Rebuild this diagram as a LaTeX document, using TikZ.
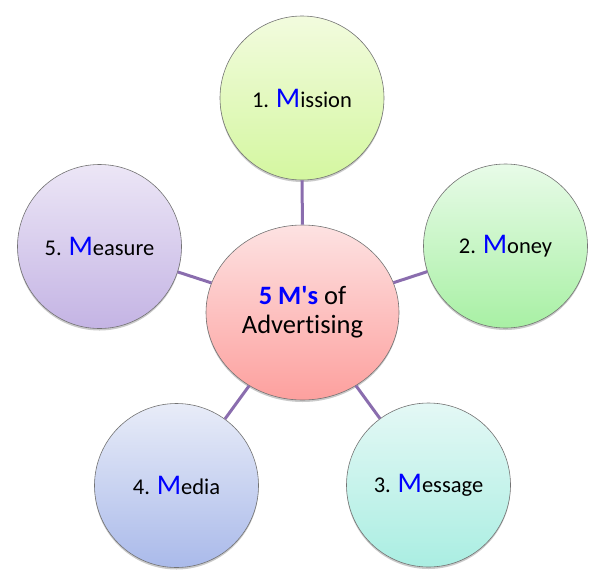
\documentclass[tikz,border=0pt]{standalone}
\usepackage{fontspec}
\setmainfont[Ligatures={NoCommon}]{Carlito}
\usetikzlibrary{shadows,shapes.geometric}
\definecolor{linkc}{HTML}{8A6DAE}
\definecolor{mblue}{HTML}{0000FF}
\tikzset{
  softshadow/.style={drop shadow={shadow xshift=0pt, shadow yshift=-2pt, opacity=0.35, fill=black!60}},
  bub/.style={circle, draw=black!55, line width=0.6pt, minimum size=164pt, inner sep=0pt,
    font=\fontsize{22.5}{26}\selectfont, softshadow},
  hub/.style={ellipse, draw=black!55, line width=0.6pt, inner sep=0pt,
    minimum width=193pt, minimum height=175pt, softshadow,
    align=center, font=\fontsize{26.5}{29}\selectfont},
  link/.style={draw=linkc, line width=3pt},
}
\newcommand{\bigM}{{\fontsize{28.5}{28}\selectfont\color{mblue}M}}
\begin{document}
\begin{tikzpicture}[x=1pt,y=-1pt]
\useasboundingbox (0,0) rectangle (607,587);
\node[hub, top color={rgb,255:red,253;green,226;blue,226}, bottom color={rgb,255:red,253;green,160;blue,158}] (c) at (302.5,312.5)
  {{\bfseries\color{mblue}5 M\textquotesingle s} of\\Advertising};
\node[bub, top color={rgb,255:red,242;green,251;blue,222}, bottom color={rgb,255:red,212;green,247;blue,160}] (m1) at (302,98) {1. \bigM ission};
\node[bub, top color={rgb,255:red,232;green,251;blue,232}, bottom color={rgb,255:red,168;green,240;blue,164}] (m2) at (505.5,246) {2. \bigM oney};
\node[bub, top color={rgb,255:red,228;green,248;blue,245}, bottom color={rgb,255:red,170;green,238;blue,226}] (m3) at (428.5,485) {3. \bigM essage};
\node[bub, top color={rgb,255:red,232;green,236;blue,248}, bottom color={rgb,255:red,170;green,186;blue,234}] (m4) at (176.5,485.5) {4. \bigM edia};
\node[bub, top color={rgb,255:red,236;green,230;blue,246}, bottom color={rgb,255:red,196;green,180;blue,228}] (m5) at (99.5,246.5) {5. \bigM easure};
\foreach \n in {m1,m2,m3,m4,m5} {\path[link] (c) -- (\n);}
\end{tikzpicture}
\end{document}
